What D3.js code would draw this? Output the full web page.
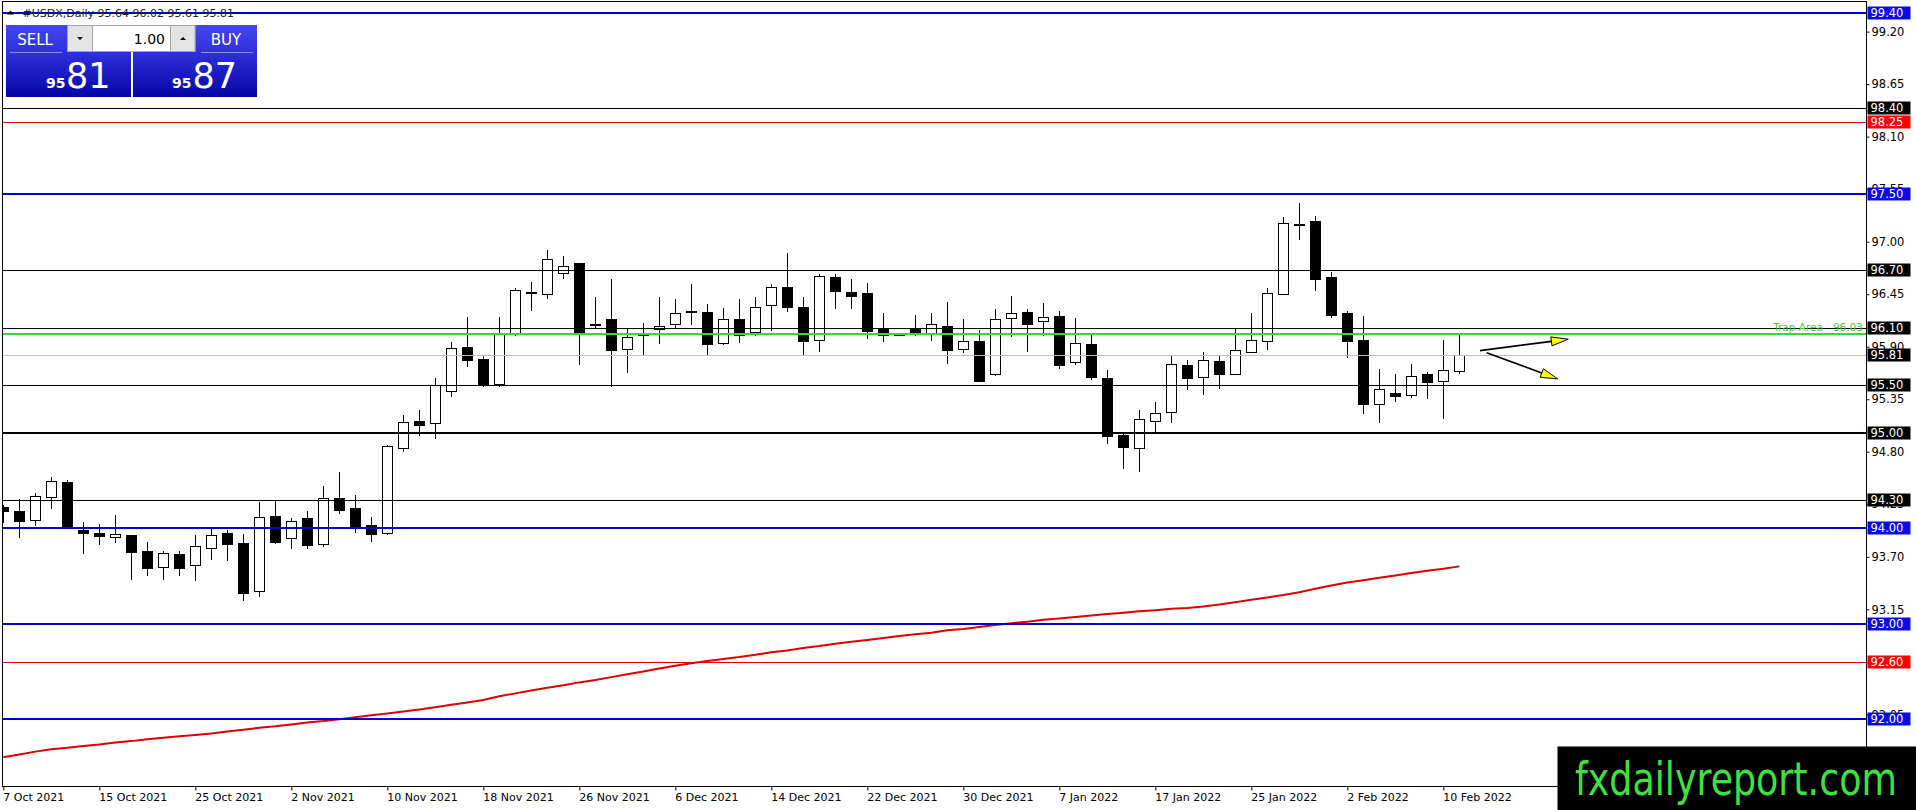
<!DOCTYPE html>
<html>
<head>
<meta charset="utf-8">
<script src="https://d3js.org/d3.v7.min.js"></script>
<style>
  body { margin: 0; background: #fff; overflow: hidden; }
  text { font-family: "DejaVu Sans", sans-serif; }
</style>
</head>
<body>
<svg id="chart" width="1916" height="810"></svg>
<script>
// daily candles, 7 Oct 2021 .. 11 Feb 2022
const opens = [94.22, 94.17, 94.08, 94.32, 94.48, 93.98, 93.94, 93.90, 93.92, 93.76,
  93.59, 93.72, 93.61, 93.79, 93.94, 93.84, 93.34, 94.12, 93.89, 94.10,
  93.83, 94.31, 94.21, 94.03, 93.94, 94.83, 95.12, 95.10, 95.43, 95.89,
  95.77, 95.50, 96.03, 96.47, 96.45, 96.67, 96.77, 96.13, 96.18, 95.87,
  96.035, 96.08, 96.13, 96.27, 96.26, 95.93, 96.18, 96.05, 96.33, 96.52,
  96.31, 95.97, 96.63, 96.47, 96.46, 96.09, 96.03, 96.09, 96.04, 96.11,
  95.87, 95.96, 95.61, 96.20, 96.26, 96.16, 96.22, 95.73, 95.92, 95.57,
  94.97, 94.83, 95.12, 95.21, 95.70, 95.58, 95.75, 95.61, 95.84, 95.95,
  96.45, 97.18, 97.21, 96.62, 96.25, 95.97, 95.30, 95.41, 95.39, 95.61,
  95.54, 95.64];
const highs = [94.24, 94.31, 94.37, 94.54, 94.50, 94.06, 94.04, 94.14, 93.93, 93.85,
  93.76, 93.76, 93.93, 94.00, 93.98, 93.94, 94.27, 94.28, 94.11, 94.18,
  94.44, 94.59, 94.35, 94.12, 94.87, 95.18, 95.24, 95.57, 95.95, 96.21,
  95.81, 96.21, 96.51, 96.58, 96.91, 96.85, 96.77, 96.42, 96.61, 96.10,
  96.15, 96.42, 96.40, 96.56, 96.35, 96.31, 96.40, 96.42, 96.56, 96.88,
  96.42, 96.66, 96.66, 96.61, 96.57, 96.25, 96.035, 96.23, 96.25, 96.37,
  96.19, 96.08, 96.29, 96.43, 96.29, 96.36, 96.27, 96.20, 96.03, 95.66,
  95.00, 95.24, 95.32, 95.80, 95.76, 95.84, 95.81, 96.09, 96.25, 96.51,
  97.26, 97.41, 97.27, 96.68, 96.27, 96.22, 95.67, 95.61, 95.72, 95.64,
  95.97, 96.02];
const lows = [94.05, 93.90, 94.02, 94.20, 93.99, 93.73, 93.82, 93.84, 93.46, 93.50,
  93.46, 93.50, 93.45, 93.67, 93.66, 93.24, 93.28, 93.83, 93.78, 93.78,
  93.80, 94.15, 93.95, 93.85, 93.93, 94.80, 94.96, 94.93, 95.37, 95.69,
  95.48, 95.48, 96.01, 96.27, 96.40, 96.61, 95.71, 96.09, 95.48, 95.63,
  95.80, 95.93, 96.10, 96.13, 95.81, 95.92, 95.94, 96.01, 96.06, 96.26,
  95.81, 95.84, 96.30, 96.30, 95.98, 95.95, 96.015, 96.01, 95.96, 95.72,
  95.83, 95.53, 95.59, 96.00, 95.85, 96.01, 95.67, 95.71, 95.55, 94.88,
  94.62, 94.59, 95.00, 95.10, 95.45, 95.39, 95.46, 95.60, 95.83, 95.87,
  96.45, 97.02, 96.48, 96.20, 95.78, 95.20, 95.10, 95.32, 95.36, 95.35,
  95.14, 95.61];
const closes = [94.17, 94.07, 94.33, 94.49, 94.01, 93.94, 93.91, 93.93, 93.74, 93.58,
  93.73, 93.58, 93.81, 93.92, 93.83, 93.32, 94.11, 93.85, 94.07, 93.82,
  94.31, 94.18, 94.02, 93.93, 94.86, 95.11, 95.08, 95.49, 95.88, 95.76,
  95.50, 96.03, 96.49, 96.46, 96.81, 96.74, 96.05, 96.12, 95.86, 96.00,
  96.02, 96.11, 96.25, 96.26, 95.92, 96.19, 96.02, 96.31, 96.52, 96.31,
  95.95, 96.64, 96.48, 96.43, 96.06, 96.02, 96.02, 96.05, 96.13, 95.86,
  95.95, 95.54, 96.19, 96.25, 96.13, 96.21, 95.70, 95.93, 95.58, 94.96,
  94.84, 95.14, 95.20, 95.71, 95.57, 95.76, 95.61, 95.86, 95.97, 96.46,
  97.19, 97.185, 96.60, 96.23, 95.95, 95.30, 95.45, 95.38, 95.59, 95.53,
  95.65, 95.81];

// red moving average, one value per bar
const maValues = [91.60, 91.63, 91.66, 91.685, 91.70, 91.72, 91.735, 91.755, 91.77, 91.79,
  91.805, 91.82, 91.835, 91.85, 91.87, 91.89, 91.91, 91.925, 91.945, 91.965,
  91.98, 92.00, 92.02, 92.04, 92.06, 92.08, 92.10, 92.125, 92.15, 92.175,
  92.20, 92.24, 92.27, 92.30, 92.33, 92.355, 92.385, 92.41, 92.44, 92.47,
  92.50, 92.53, 92.56, 92.585, 92.61, 92.63, 92.65, 92.675, 92.70, 92.72,
  92.745, 92.765, 92.79, 92.81, 92.83, 92.85, 92.87, 92.89, 92.905, 92.93,
  92.945, 92.965, 92.985, 93.005, 93.02, 93.04, 93.055, 93.07, 93.085, 93.10,
  93.115, 93.13, 93.14, 93.155, 93.165, 93.18, 93.20, 93.225, 93.25, 93.275,
  93.30, 93.33, 93.365, 93.40, 93.43, 93.455, 93.48, 93.505, 93.53, 93.555,
  93.575, 93.60];

const dateLabels = ["7 Oct 2021", "15 Oct 2021", "25 Oct 2021", "2 Nov 2021", "10 Nov 2021",
  "18 Nov 2021", "26 Nov 2021", "6 Dec 2021", "14 Dec 2021", "22 Dec 2021", "30 Dec 2021",
  "7 Jan 2022", "17 Jan 2022", "25 Jan 2022", "2 Feb 2022", "10 Feb 2022"];
const dateLabelBars = [0, 6, 12, 18, 24, 30, 36, 42, 48, 54, 60, 66, 72, 78, 84, 90];

const priceTicks = [99.20, 98.65, 98.10, 97.55, 97.00, 96.45, 95.90, 95.35, 94.80, 94.25,
  93.70, 93.15, 92.60, 92.05];

// horizontal levels drawn on the chart
const blueLevels = [99.40, 97.50, 94.00, 93.00, 92.00];
const blackLevels = [98.40, 96.70, 96.10, 95.50, 94.30];
const boldBlackLevels = [95.00];
const redLevels = [98.25, 92.60];
const trapLevel = 96.03;
const bidPrice = 95.81;
const askPrice = 95.87;
const lotSize = "1.00";

// arrows: [bar, price] -> [bar, price]
const arrowStarts = [[92.29, 95.859], [92.71, 95.838]];
const arrowEnds = [[97.81, 95.979], [97.15, 95.563]];

const svg = d3.select("#chart");
const plotLeft = 2.5, plotTop = 1.5, plotRight = 1866.5, plotBottom = 786.5;

const x = d3.scaleLinear().domain([0, 91]).range([3.3, 1459.3]);
const y = d3.scaleLinear().domain([91.30, 99.51]).range([786, 2]);

svg.append("defs").append("clipPath").attr("id", "plotClip")
  .append("rect").attr("x", 3).attr("y", 2).attr("width", 1863).attr("height", 784);

const gradient = svg.select("defs").append("linearGradient")
  .attr("id", "btnGrad").attr("x1", 0).attr("y1", 0).attr("x2", 0).attr("y2", 1);
gradient.append("stop").attr("offset", "0%").attr("stop-color", "#4646ee");
gradient.append("stop").attr("offset", "38%").attr("stop-color", "#2f2fdc");
gradient.append("stop").attr("offset", "100%").attr("stop-color", "#0606a6");

const plot = svg.append("g").attr("clip-path", "url(#plotClip)");

// Candles
const bars = d3.range(opens.length).map(i => ({ i: i, o: opens[i], h: highs[i], l: lows[i], c: closes[i] }));
const candle = plot.selectAll("g.candle")
  .data(bars)
  .enter()
  .append("g")
  .attr("class", "candle")
  .attr("shape-rendering", "crispEdges");

candle.append("line")
  .attr("x1", d => Math.round(x(d.i)) + 0.5)
  .attr("x2", d => Math.round(x(d.i)) + 0.5)
  .attr("y1", d => y(d.h))
  .attr("y2", d => y(d.l))
  .attr("stroke", "#000")
  .attr("stroke-width", 1);

candle.append("rect")
  .attr("x", d => Math.round(x(d.i)) - 4.5)
  .attr("width", 10)
  .attr("y", d => y(Math.max(d.o, d.c)))
  .attr("height", d => Math.max(y(Math.min(d.o, d.c)) - y(Math.max(d.o, d.c)), 1))
  .attr("fill", d => (d.c >= d.o ? "#fff" : "#000"))
  .attr("stroke", "#000")
  .attr("stroke-width", 1);

// Moving average
plot.append("path")
  .datum(maValues)
  .attr("fill", "none")
  .attr("stroke", "#dd0000")
  .attr("stroke-width", 2)
  .attr("d", d3.line().x((d, i) => x(i)).y(d => y(d)));

// Title (drawn under the 99.40 line)
svg.append("path").attr("d", "M7,14.5 L10.5,10.5 L14,14.5 Z").attr("fill", "#000");
svg.append("text")
  .attr("x", 22.5).attr("y", 16.5)
  .attr("font-size", 11)
  .attr("fill", "#222")
  .text(`#USDX,Daily  ${opens[91].toFixed(2)} ${highs[91].toFixed(2)} ${lows[91].toFixed(2)} ${closes[91].toFixed(2)}`);

// Levels
function drawLevels(list, color, width) {
  plot.selectAll(null)
    .data(list)
    .enter()
    .append("line")
    .attr("x1", plotLeft).attr("x2", plotRight)
    .attr("y1", d => Math.round(y(d)) + (width === 1 ? 0.5 : 0))
    .attr("y2", d => Math.round(y(d)) + (width === 1 ? 0.5 : 0))
    .attr("stroke", color)
    .attr("stroke-width", width);
}
drawLevels([bidPrice], "#c0c0c0", 1);
drawLevels(blackLevels, "#000", 1);
drawLevels(boldBlackLevels, "#000", 2);
drawLevels(redLevels, "#e00000", 1);
drawLevels([trapLevel], "#3fd23f", 2);
drawLevels(blueLevels, "#0000cc", 2);

svg.append("text")
  .attr("x", 1863).attr("y", y(trapLevel) - 3)
  .attr("text-anchor", "end")
  .attr("font-size", 10.5)
  .attr("fill", "#3ccf3c")
  .style("white-space", "pre")
  .text("Trap Area   " + trapLevel.toFixed(2));

// Arrows
arrowStarts.forEach((s, k) => {
  const e = arrowEnds[k];
  const x0 = x(s[0]), y0 = y(s[1]), x1 = x(e[0]), y1 = y(e[1]);
  const len = Math.hypot(x1 - x0, y1 - y0);
  const ux = (x1 - x0) / len, uy = (y1 - y0) / len;
  const bx = x1 - ux * 17, by = y1 - uy * 17;
  svg.append("line")
    .attr("x1", x0).attr("y1", y0).attr("x2", bx).attr("y2", by)
    .attr("stroke", "#000").attr("stroke-width", 1.6);
  svg.append("path")
    .attr("d", `M${x1},${y1} L${bx - uy * 4.5},${by + ux * 4.5} L${bx + uy * 4.5},${by - ux * 4.5} Z`)
    .attr("fill", "#ffff00")
    .attr("stroke", "#000")
    .attr("stroke-width", 1);
});

// Frame
svg.append("rect")
  .attr("x", plotLeft).attr("y", plotTop)
  .attr("width", plotRight - plotLeft).attr("height", plotBottom - plotTop)
  .attr("fill", "none").attr("stroke", "#000").attr("stroke-width", 1);

// Right price axis
const yAxis = d3.axisRight(y).tickValues(priceTicks).tickSize(3).tickFormat(d3.format(".2f"));
svg.append("g")
  .attr("transform", `translate(${plotRight},0)`)
  .call(yAxis)
  .call(g => g.select(".domain").remove())
  .call(g => g.selectAll("text").attr("font-family", "DejaVu Sans").attr("font-size", 11.5).attr("fill", "#000").attr("x", 5))
  .call(g => g.selectAll("line").attr("stroke", "#000"));

// Bottom date axis
const xAxis = d3.axisBottom(x).tickValues(dateLabelBars).tickSize(4).tickFormat((d, i) => dateLabels[i]);
svg.append("g")
  .attr("transform", `translate(0,${plotBottom})`)
  .call(xAxis)
  .call(g => g.select(".domain").remove())
  .call(g => g.selectAll("text").attr("font-family", "DejaVu Sans").attr("font-size", 11).attr("fill", "#000").attr("text-anchor", "start").attr("x", -0.5))
  .call(g => g.selectAll("line").attr("stroke", "#000"));

// Level labels on the price axis
function drawLabels(list, color) {
  const lab = svg.selectAll(null).data(list).enter().append("g")
    .attr("transform", d => `translate(${plotRight + 1},${Math.round(y(d))})`);
  lab.append("rect").attr("x", 0).attr("y", -6.5).attr("width", 43).attr("height", 13).attr("fill", color);
  lab.append("text").attr("x", 3).attr("y", 0).attr("dy", "0.36em")
    .attr("font-size", 11.5).attr("fill", "#fff").text(d => d.toFixed(2));
}
drawLabels(blackLevels.concat(boldBlackLevels, [bidPrice]), "#000");
drawLabels(redLevels, "#ff0000");
drawLabels(blueLevels, "#0a0ae6");

// One-click trading panel
const panel = svg.append("g");
[[6, 125], [133, 124]].forEach(b => {
  panel.append("rect").attr("x", b[0]).attr("y", 25).attr("width", b[1]).attr("height", 72).attr("fill", "url(#btnGrad)");
});
panel.append("line").attr("x1", 10).attr("x2", 62).attr("y1", 52.5).attr("y2", 52.5).attr("stroke", "#8e8ef2");
panel.append("line").attr("x1", 201).attr("x2", 253).attr("y1", 52.5).attr("y2", 52.5).attr("stroke", "#8e8ef2");

panel.append("rect").attr("x", 67.5).attr("y", 25.5).attr("width", 127.5).attr("height", 26).attr("fill", "#fff").attr("stroke", "#a6a6a6");
panel.append("rect").attr("x", 67.5).attr("y", 25.5).attr("width", 25).attr("height", 26).attr("fill", "#e3e3e3").attr("stroke", "#a6a6a6");
panel.append("rect").attr("x", 170.5).attr("y", 25.5).attr("width", 24.5).attr("height", 26).attr("fill", "#e3e3e3").attr("stroke", "#a6a6a6");
panel.append("path").attr("d", "M77,37 L83,37 L80,40 Z").attr("fill", "#000");
panel.append("path").attr("d", "M180,40 L186,40 L183,37 Z").attr("fill", "#000");
panel.append("text").attr("x", 165).attr("y", 43.5).attr("text-anchor", "end")
  .attr("font-family", "Noto Sans").attr("font-size", 14).attr("fill", "#000").text(lotSize);

panel.append("text").attr("x", 35).attr("y", 45).attr("text-anchor", "middle")
  .attr("font-family", "Noto Sans").attr("font-size", 15).attr("fill", "#fff").text("SELL");
panel.append("text").attr("x", 226).attr("y", 45).attr("text-anchor", "middle")
  .attr("font-family", "Noto Sans").attr("font-size", 15).attr("fill", "#fff").text("BUY");

function priceParts(px, xs, xb) {
  const s = px.toFixed(2).split(".");
  panel.append("text").attr("x", xs).attr("y", 87.5)
    .attr("font-family", "Noto Sans").attr("font-weight", "bold").attr("font-size", 14).attr("fill", "#fff").text(s[0]);
  panel.append("text").attr("x", xb).attr("y", 87.5)
    .attr("font-family", "Open Sans").attr("font-size", 35).attr("fill", "#fff").text(s[1]);
}
priceParts(bidPrice, 46, 66);
priceParts(askPrice, 172, 192.5);

// Watermark
svg.append("rect").attr("x", 1557.5).attr("y", 746.5).attr("width", 359).attr("height", 64).attr("fill", "#000");
const mark = svg.append("text")
  .attr("font-family", "Liberation Sans")
  .attr("font-size", 47)
  .attr("fill", "#3fe03f")
  .text("fxdailyreport.com");
const markWidth = mark.node().getComputedTextLength();
mark.attr("transform", `translate(1575,795) scale(${322 / markWidth},1)`);
</script>
</body>
</html>
